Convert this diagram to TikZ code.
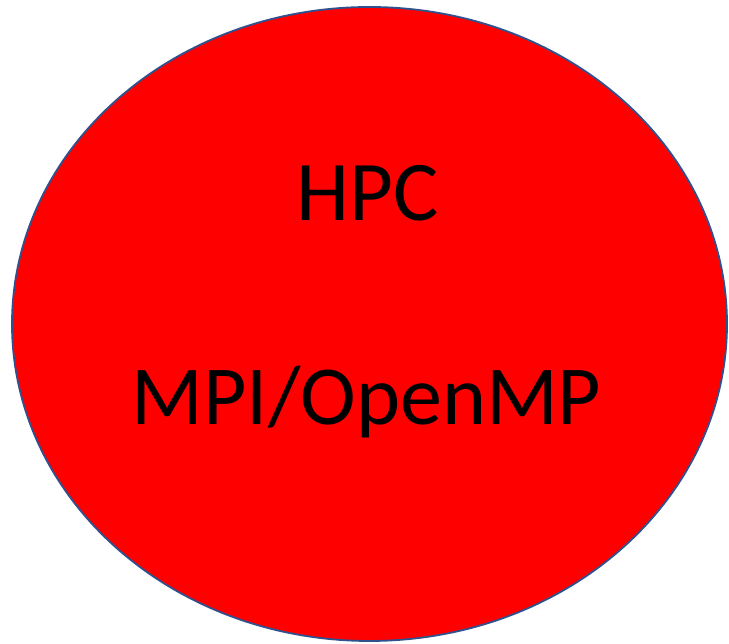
\documentclass[tikz,border=0pt]{standalone}
\usepackage{fontspec}
\setmainfont{Carlito}
\usetikzlibrary{positioning}

\definecolor{shapered}{RGB}{255,0,0}
\definecolor{outlineblue}{RGB}{47,82,143}

\begin{document}
\begin{tikzpicture}[x=1pt,y=1pt]
    % Page frame
    \useasboundingbox (0,0) rectangle (729,644);

    % Draw the filled ellipse
    \draw[line width=1.8pt,outlineblue,fill=shapered] (369.5,320) ellipse [x radius=357.5, y radius=317];

    % Label the two lines of text
    \node[anchor=base,inner sep=0pt,font=\fontsize{85}{90}\selectfont] (hpc) at (368,423) {HPC};
    \node[anchor=base,inner sep=0pt,font=\fontsize{84}{90}\selectfont] (mpi) at (366.5,219) {MPI/OpenMP};
\end{tikzpicture}
\end{document}
